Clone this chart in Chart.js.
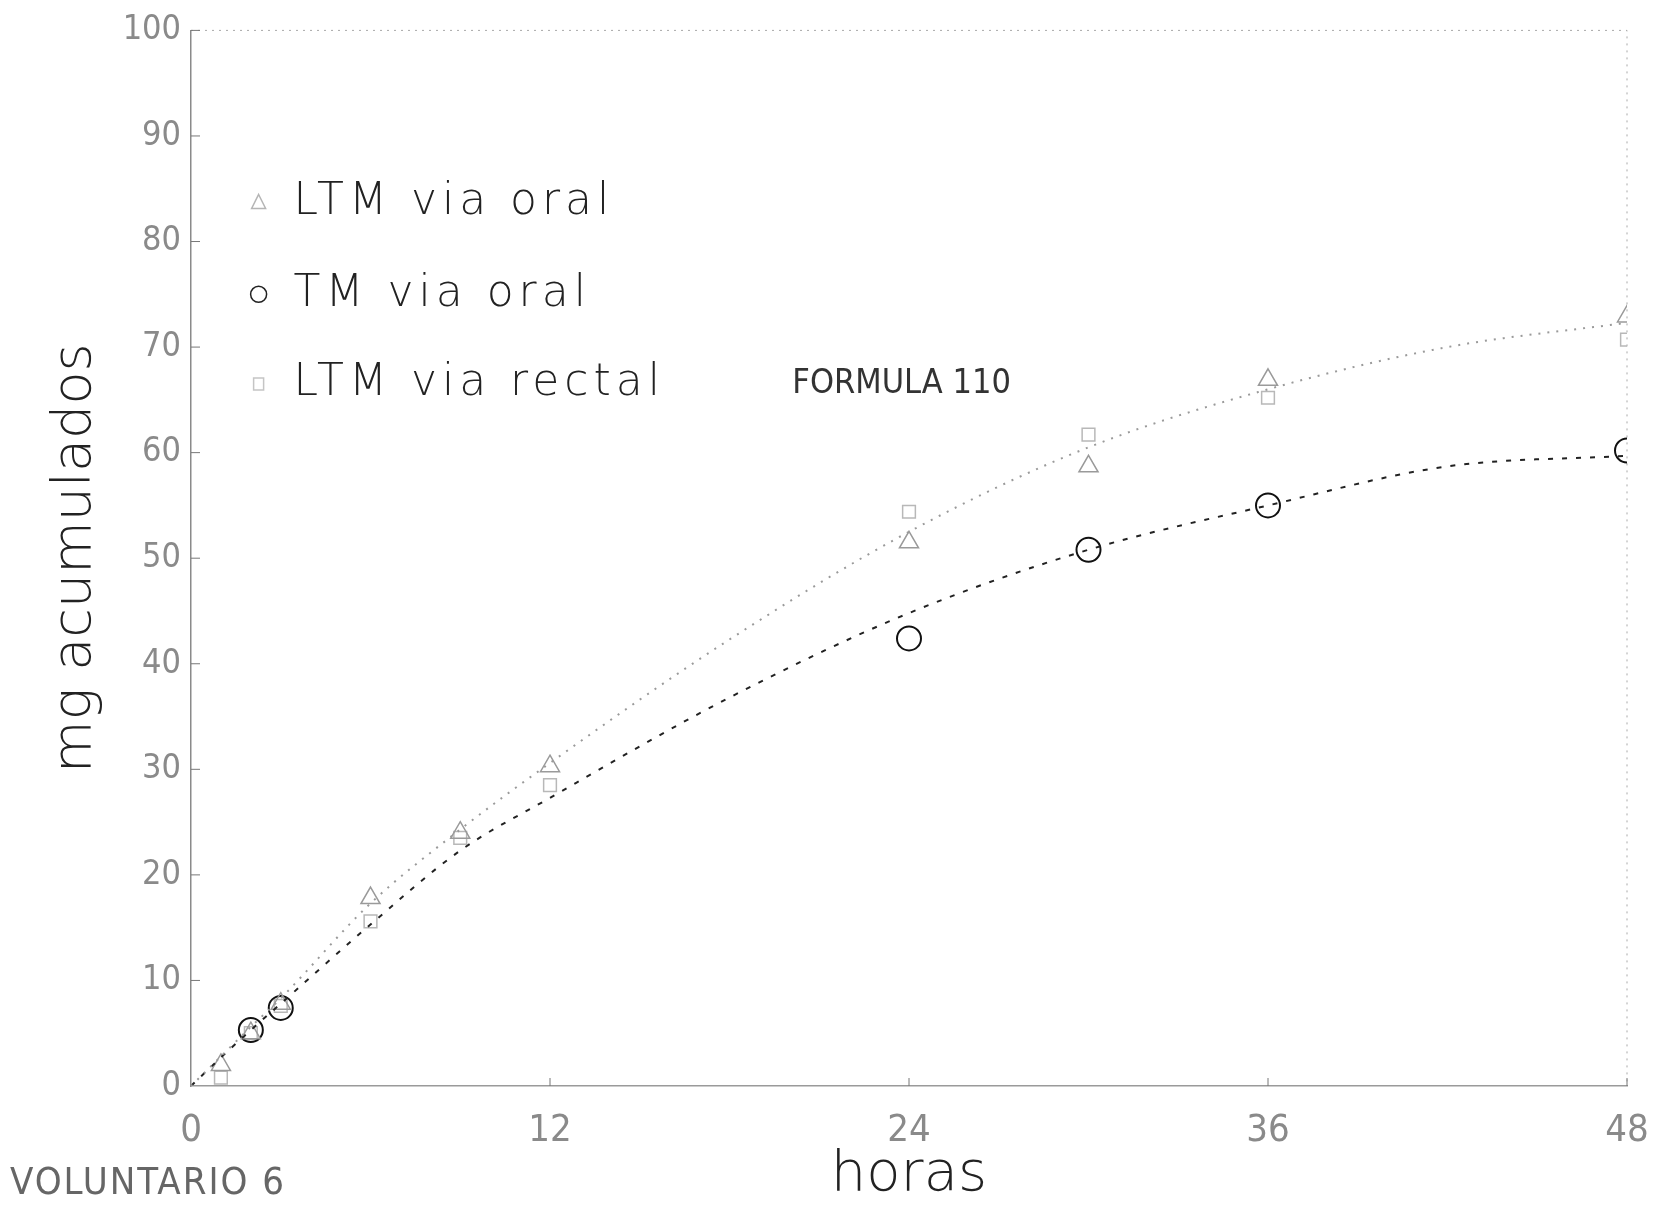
<!DOCTYPE html>
<html>
<head>
<meta charset="utf-8">
<script src="https://cdn.jsdelivr.net/npm/chart.js@4.4.1/dist/chart.umd.min.js"></script>
<style>
  html, body { margin: 0; padding: 0; background: #fff; }
  #wrap { width: 1657px; height: 1209px; position: relative; }
</style>
</head>
<body>
<div id="wrap"><canvas id="chart-voluntario"></canvas></div>
<script>
// horas de recogida y mg acumulados
var ltmOralHours = [1, 2, 3, 6, 9, 12, 24, 30, 36, 48];
var ltmOral = [2.0, 5.0, 7.8, 17.8, 24.0, 30.3, 51.5, 58.7, 66.9, 72.9];

var tmOralHours = [2, 3, 24, 30, 36, 48];
var tmOral = [5.3, 7.4, 42.4, 50.8, 55.0, 60.2];

var ltmRectalHours = [1, 2, 3, 6, 9, 12, 24, 30, 36, 48];
var ltmRectal = [0.8, 5.0, 7.6, 15.6, 23.5, 28.5, 54.4, 61.7, 65.2, 70.7];

// curvas ajustadas
var curveHours = [0, 1, 2, 3, 6, 9, 12, 18, 24, 30, 36, 42, 48];
var tmCurve = [0, 2.7, 5.3, 7.8, 15.3, 22.3, 27.3, 36.8, 44.8, 50.8, 55.0, 58.7, 59.7];
var ltmCurve = [0, 2.8, 5.6, 8.3, 17.3, 24.3, 30.6, 42.3, 52.5, 60.5, 66.0, 70.0, 72.3];

var xTicks = [0, 12, 24, 36, 48];
var legendLabels = ['LTM via oral', 'TM via oral', 'LTM via rectal'];
var noteText = 'FORMULA 110';
var cornerText = 'VOLUNTARIO 6';

function pts(xs, ys) {
    var out = [];
    for (var i = 0; i < xs.length; i++) out.push({x: xs[i], y: ys[i]});
    return out;
}

var NARROW = "'Liberation Sans Narrow', 'DejaVu Sans Condensed', 'DejaVu Sans', sans-serif";
var THIN = "'DejaVu Sans', sans-serif";

var plotDecor = {
    id: 'plotDecor',
    beforeDatasetsDraw: function(chart) {
        var ctx = chart.ctx, a = chart.chartArea;
        var xs = chart.scales.x, ys = chart.scales.y;
        ctx.save();
        // marco punteado arriba y derecha
        ctx.strokeStyle = '#a8a8a8';
        ctx.lineWidth = 1;
        ctx.setLineDash([2, 5]);
        ctx.beginPath();
        ctx.moveTo(a.left, a.top); ctx.lineTo(a.right, a.top); ctx.lineTo(a.right, a.bottom);
        ctx.stroke();
        // marcas cortas hacia dentro
        ctx.setLineDash([]);
        ctx.strokeStyle = '#777';
        for (var v = 10; v <= 100; v += 10) {
            var py = ys.getPixelForValue(v);
            ctx.beginPath(); ctx.moveTo(a.left, py); ctx.lineTo(a.left + 9, py); ctx.stroke();
        }
        xTicks.forEach(function(t) {
            if (t === 0) return;
            var px = xs.getPixelForValue(t);
            ctx.beginPath(); ctx.moveTo(px, a.bottom); ctx.lineTo(px, a.bottom - 8); ctx.stroke();
        });
        ctx.restore();
    },
    afterDraw: function(chart) {
        var ctx = chart.ctx;
        var xs = chart.scales.x, ys = chart.scales.y;
        var rows = [83.7, 75.0, 66.5];
        var mx = xs.getPixelForValue(2.26);
        var tx = xs.getPixelForValue(3.43);
        ctx.save();
        ctx.textBaseline = 'middle';
        ctx.textAlign = 'left';
        ctx.letterSpacing = '5px';
        ctx.font = '200 44px ' + THIN;
        ctx.fillStyle = '#222';
        legendLabels.forEach(function(lbl, i) {
            var cy = ys.getPixelForValue(rows[i]);
            ctx.fillText(lbl, tx, cy);
            ctx.lineWidth = 1.5;
            ctx.beginPath();
            if (i === 0) {
                ctx.strokeStyle = '#b5b5b5';
                ctx.moveTo(mx, cy - 8); ctx.lineTo(mx + 7, cy + 6); ctx.lineTo(mx - 7, cy + 6); ctx.closePath();
            } else if (i === 1) {
                ctx.strokeStyle = '#222';
                ctx.arc(mx, cy, 8, 0, Math.PI * 2);
            } else {
                ctx.strokeStyle = '#c5c5c5';
                ctx.rect(mx - 5, cy - 6, 10, 12);
            }
            ctx.stroke();
        });
        ctx.letterSpacing = '0px';
        ctx.font = '200 34px ' + NARROW;
        ctx.fillStyle = '#333';
        ctx.fillText(noteText, xs.getPixelForValue(20.1), ys.getPixelForValue(66.5));
        ctx.font = '38px ' + NARROW;
        ctx.fillStyle = '#666';
        ctx.letterSpacing = '2px';
        ctx.fillText(cornerText, 10, 1184);
        ctx.restore();
    }
};

var ctxEl = document.getElementById('chart-voluntario');
new Chart(ctxEl, {
    type: 'scatter',
    data: {
        datasets: [
            {
                label: 'LTM ajuste',
                data: pts(curveHours, ltmCurve),
                showLine: true,
                borderColor: '#9a9a9a',
                borderWidth: 2,
                borderDash: [2, 7],
                pointRadius: 0,
                cubicInterpolationMode: 'monotone'
            },
            {
                label: 'TM ajuste',
                data: pts(curveHours, tmCurve),
                showLine: true,
                borderColor: '#222',
                borderWidth: 2,
                borderDash: [5, 9],
                pointRadius: 0,
                cubicInterpolationMode: 'monotone'
            },
            {
                label: legendLabels[0],
                data: pts(ltmOralHours, ltmOral),
                pointStyle: 'triangle',
                pointRadius: 11,
                borderColor: '#9a9a9a',
                backgroundColor: 'rgba(0,0,0,0)',
                borderWidth: 1.5
            },
            {
                label: legendLabels[1],
                data: pts(tmOralHours, tmOral),
                pointStyle: 'circle',
                pointRadius: 12,
                borderColor: '#111',
                backgroundColor: 'rgba(0,0,0,0)',
                borderWidth: 2
            },
            {
                label: legendLabels[2],
                data: pts(ltmRectalHours, ltmRectal),
                pointStyle: 'rect',
                pointRadius: 9,
                borderColor: '#b8b8b8',
                backgroundColor: 'rgba(0,0,0,0)',
                borderWidth: 1.5
            }
        ]
    },
    options: {
        responsive: true,
        maintainAspectRatio: false,
        animation: false,
        layout: { padding: { top: 28, right: 30, left: 0, bottom: 0 } },
        plugins: { legend: { display: false }, tooltip: { enabled: false } },
        scales: {
            x: {
                type: 'linear',
                min: 0, max: 48,
                afterBuildTicks: function(scale) {
                    scale.ticks = xTicks.map(function(v) { return {value: v}; });
                },
                afterFit: function(scale) {
                    scale.height = 123;
                    scale.paddingLeft = 0;
                    scale.paddingRight = 0;
                },
                grid: { display: false, drawTicks: false },
                border: { display: true, color: '#9a9a9a', dash: [3, 9], width: 1.5 },
                ticks: { color: '#8a8a8a', padding: 22, font: { family: NARROW, size: 38 }, maxRotation: 0 },
                title: { display: true, text: 'horas', color: '#222', padding: { top: 0, bottom: 0 }, font: { family: THIN, size: 56, weight: '200' } }
            },
            y: {
                type: 'linear',
                min: 0, max: 100,
                ticks: { stepSize: 10, color: '#8a8a8a', padding: 10, font: { family: NARROW, size: 34 } },
                afterFit: function(scale) { scale.width = 191; },
                grid: { display: false, drawTicks: false },
                border: { display: true, color: '#8a8a8a', dash: [2, 2], width: 1.5 },
                title: { display: true, text: 'mg acumulados', color: '#222', padding: { top: 44, bottom: 0 }, font: { family: THIN, size: 54, weight: '200' } }
            }
        }
    },
    plugins: [plotDecor]
});
</script>
</body>
</html>
